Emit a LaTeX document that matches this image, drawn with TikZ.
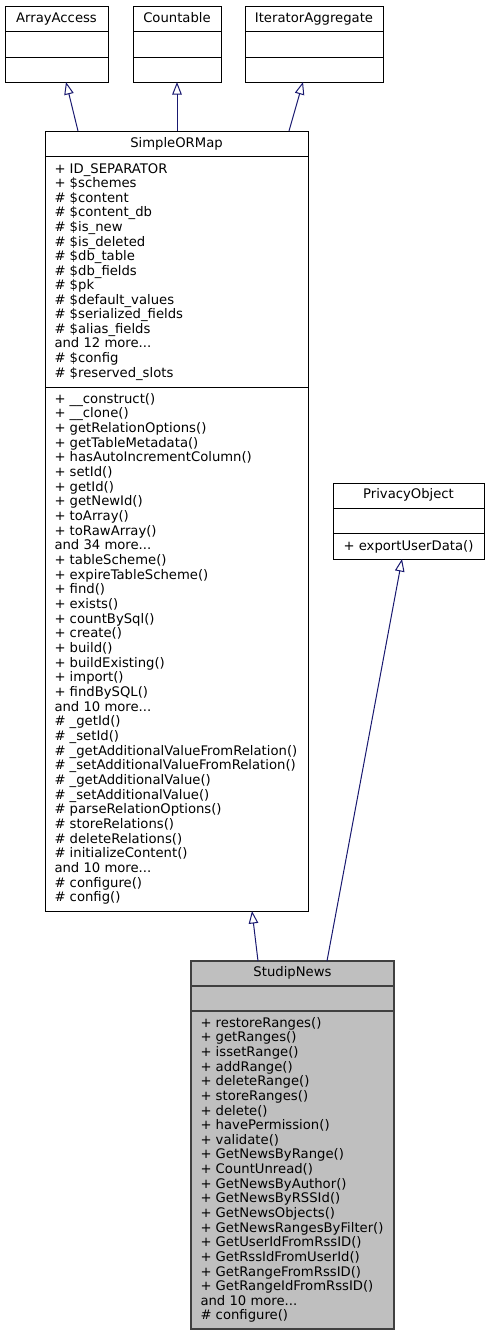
\documentclass[tikz,border=0pt]{standalone}
\usepackage{fontspec}
\setmainfont{DejaVu Sans}
\usetikzlibrary{arrows.meta}
\definecolor{edgeblue}{HTML}{191970}
\definecolor{focusfill}{HTML}{BFBFBF}
\definecolor{focusline}{HTML}{404040}
\newcommand\mydots{...}
\begin{document}
\begin{tikzpicture}[x=1pt,y=-1pt,
  font=\fontsize{13.2}{14.66}\selectfont,
  classbox/.style={draw=black, line width=1pt, fill=white, anchor=north west, inner sep=0pt, outer sep=0pt},
  focusbox/.style={draw=focusline, line width=1.3pt, fill=focusfill, anchor=north west, inner sep=0pt, outer sep=0pt},
  sepline/.style={draw=black, line width=1pt},
  focussep/.style={draw=focusline, line width=1.6pt},
  txt/.style={anchor=base west, inner sep=0pt, outer sep=0pt},
  ttl/.style={anchor=base, inner sep=0pt, outer sep=0pt},
  inherit/.style={draw=edgeblue, line width=1pt, -{Triangle[open,length=12.5pt,width=9.5pt]}}]
\useasboundingbox (0,0) rectangle (489,1336);

% ---- ArrayAccess
\node[classbox, minimum width=103, minimum height=76] (aa) at (5,6) {};
\draw[sepline] (5,31) -- (108,31);
\draw[sepline] (5,57) -- (108,57);
\node[ttl] (aaT) at (56.5,22) {ArrayAccess};

% ---- Countable
\node[classbox, minimum width=88, minimum height=76] (co) at (133,6) {};
\draw[sepline] (133,31) -- (221,31);
\draw[sepline] (133,57) -- (221,57);
\node[ttl] (coT) at (177,22) {Countable};

% ---- IteratorAggregate
\node[classbox, minimum width=138, minimum height=76] (ia) at (245,6) {};
\draw[sepline] (245,31) -- (383,31);
\draw[sepline] (245,57) -- (383,57);
\node[ttl] (iaT) at (314,22) {IteratorAggregate};

% ---- SimpleORMap
\node[classbox, minimum width=263, minimum height=780] (sm) at (45,131) {};
\draw[sepline] (45,156) -- (308,156);
\draw[sepline] (45,387) -- (308,387);
\node[ttl] (smT) at (176.5,147.3) {SimpleORMap};
\foreach \t [count=\i from 0] in {+ ID\_SEPARATOR, + \$schemes, \# \$content, \# \$content\_db, \# \$is\_new, \# \$is\_deleted, \# \$db\_table, \# \$db\_fields, \# \$pk, \# \$default\_values, \# \$serialized\_fields, \# \$alias\_fields, and 12 more\mydots, \# \$config, \# \$reserved\_slots}
  \node[txt] (smA\i) at (54.5,{173.3+14.55*\i}) {\t};
\foreach \t [count=\i from 0] in {+ \_\_construct(), + \_\_clone(), + getRelationOptions(), + getTableMetadata(), + hasAutoIncrementColumn(), + setId(), + getId(), + getNewId(), + toArray(), + toRawArray(), and 34 more\mydots, + tableScheme(), + expireTableScheme(), + find(), + exists(), + countBySql(), + create(), + build(), + buildExisting(), + import(), + findBySQL(), and 10 more\mydots, \# \_getId(), \# \_setId(), \# \_getAdditionalValueFromRelation(), \# \_setAdditionalValueFromRelation(), \# \_getAdditionalValue(), \# \_setAdditionalValue(), \# parseRelationOptions(), \# storeRelations(), \# deleteRelations(), \# initializeContent(), and 10 more\mydots, \# configure(), \# config()}
  \node[txt] (smM\i) at (54.5,{403.3+14.66*\i}) {\t};

% ---- PrivacyObject
\node[classbox, minimum width=151, minimum height=76] (po) at (333,483) {};
\draw[sepline] (333,508) -- (484,508);
\draw[sepline] (333,533) -- (484,533);
\node[ttl] (poT) at (408.5,498) {PrivacyObject};
\node[ttl] (poM) at (408.5,550) {+ exportUserData()};

% ---- StudipNews
\node[focusbox, minimum width=203, minimum height=368] (sn) at (191,961) {};
\draw[focussep] (191,986) -- (394,986);
\draw[focussep] (191,1011) -- (394,1011);
\node[ttl] (snT) at (292.5,976.7) {StudipNews};
\foreach \t [count=\i from 0] in {+ restoreRanges(), + getRanges(), + issetRange(), + addRange(), + deleteRange(), + storeRanges(), + delete(), + havePermission(), + validate(), + GetNewsByRange(), + CountUnread(), + GetNewsByAuthor(), + GetNewsByRSSId(), + GetNewsObjects(), + GetNewsRangesByFilter(), + GetUserIdFromRssID(), + GetRssIdFromUserId(), + GetRangeFromRssID(), + GetRangeIdFromRssID(), and 10 more\mydots, \# configure()}
  \node[txt] (snM\i) at (200.5,{1027.3+14.63*\i}) {\t};

% ---- connector end points
\coordinate (aaIn) at (66,82);
\coordinate (coIn) at (177,82);
\coordinate (iaIn) at (303,82);
\coordinate (smOutA) at (78,131);
\coordinate (smOutC) at (177,131);
\coordinate (smOutI) at (289,131);
\coordinate (smIn) at (252,911);
\coordinate (poIn) at (402,559);
\coordinate (snOutS) at (258,961);
\coordinate (snOutP) at (327,961);

\draw[inherit] (smOutA) -- (aaIn);
\draw[inherit] (smOutC) -- (coIn);
\draw[inherit] (smOutI) -- (iaIn);
\draw[inherit] (snOutS) -- (smIn);
\draw[inherit] (snOutP) -- (poIn);
\end{tikzpicture}
\end{document}
